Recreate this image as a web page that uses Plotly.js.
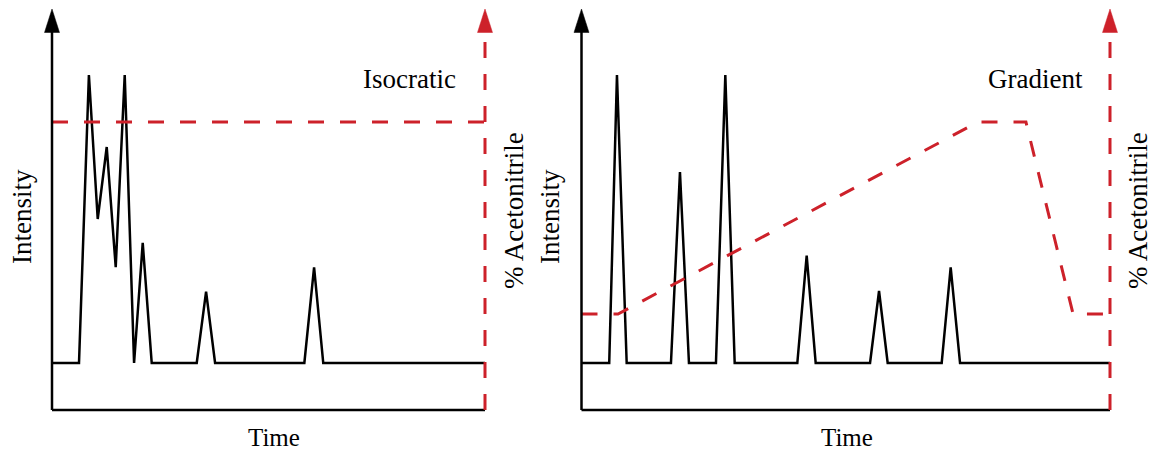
<!DOCTYPE html>
<html>
<head>
<meta charset="utf-8">
<script src="https://cdn.plot.ly/plotly-3.0.1.min.js"></script>
<style>html,body{margin:0;padding:0;background:#fff;}</style>
</head>
<body>
<div id="chart" style="width:1153px;height:452px;"></div>
<script>
// ---- data (time in min, intensity in a.u., acetonitrile in %) ----
var isoTime = [0, 1.5, 2.05, 2.54, 3.04, 3.54, 4.04, 4.56, 5.04, 5.54, 8.04, 8.56, 9.06, 14.02, 14.56, 15.07, 24.06];
var isoIntensity = [0, 0, 100, 50, 75, 33.3, 100, 0, 41.7, 0, 0, 24.8, 0, 0, 33.2, 0, 0];
var isoAcnTime = [0, 24.06];
var isoAcn = [90, 90];

var gradTime = [0, 1.54, 1.97, 2.51, 4.97, 5.47, 5.97, 7.47, 7.99, 8.51, 11.99, 12.51, 13.01, 16.03, 16.53, 17.01, 20.01, 20.51, 21.03, 29.36];
var gradIntensity = [0, 0, 100, 0, 0, 66.3, 0, 0, 100, 0, 0, 37.3, 0, 0, 25, 0, 0, 33.2, 0, 0];
var gradAcnTime = [0, 2.03, 22.03, 24.69, 27.31, 29.36];
var gradAcn = [30, 30, 90, 90, 30, 30];

var panelLabels = ["Isocratic", "Gradient"];
var xLabel = "Time";
var yLabel = "Intensity";
var y2Label = "% Acetonitrile";

// ---- layout helpers ----
var W = 1153, H = 452;
function X(px) { return px / W; }
function Y(py) { return 1 - py / H; }
var RED = "rgb(205,33,42)";
var FONT = "Liberation Serif, Times New Roman, serif";

var L = {x0: 52, x1: 485}, R = {x0: 581.5, x1: 1110};
var plotTop = 30, plotBottom = 410, baseY = 363;
var pxPerMin = 18, pxPerInt = 2.88, pxPerPct = 3.2;

function hidden(extra) {
  var a = {showgrid: false, zeroline: false, showline: false, showticklabels: false, ticks: "", fixedrange: true};
  for (var k in extra) a[k] = extra[k];
  return a;
}
var yDom = [Y(plotBottom), Y(plotTop)];
var intRange = [-(plotBottom - baseY) / pxPerInt, (baseY - plotTop) / pxPerInt];
var pctRange = [0, (plotBottom - plotTop) / pxPerPct];

var traces = [
  {x: isoTime, y: isoIntensity, xaxis: "x", yaxis: "y", mode: "lines", line: {color: "#000", width: 2.5}, hoverinfo: "skip"},
  {x: isoAcnTime, y: isoAcn, xaxis: "x", yaxis: "y2", mode: "lines", line: {color: RED, width: 3, dash: "16px,16px"}, hoverinfo: "skip"},
  {x: gradTime, y: gradIntensity, xaxis: "x2", yaxis: "y3", mode: "lines", line: {color: "#000", width: 2.5}, hoverinfo: "skip"},
  {x: gradAcnTime, y: gradAcn, xaxis: "x2", yaxis: "y4", mode: "lines", line: {color: RED, width: 3, dash: "16px,16px"}, hoverinfo: "skip"}
];

function axisShapes(P) {
  var s = [];
  s.push({type: "line", xref: "paper", yref: "paper", x0: X(P.x0), x1: X(P.x1), y0: Y(plotBottom), y1: Y(plotBottom), line: {color: "#000", width: 2.5}});
  s.push({type: "line", xref: "paper", yref: "paper", x0: X(P.x0), x1: X(P.x0), y0: Y(plotBottom), y1: Y(plotTop), line: {color: "#000", width: 2.5}});
  s.push({type: "line", xref: "paper", yref: "paper", x0: X(P.x1), x1: X(P.x1), y0: Y(plotBottom), y1: Y(plotTop), line: {color: RED, width: 3, dash: "16px,16px"}});
  function tri(x, col) {
    return {type: "path", xref: "paper", yref: "paper", fillcolor: col, line: {color: col, width: 0.5},
      path: "M" + X(x) + "," + Y(9) + " L" + X(x - 7.5) + "," + Y(32.5) + " L" + X(x + 7.5) + "," + Y(32.5) + " Z"};
  }
  s.push(tri(P.x0, "#000"));
  s.push(tri(P.x1, RED));
  return s;
}

function txt(t, x, y, anchor, angle, size) {
  return {text: t, xref: "paper", yref: "paper", x: X(x), y: Y(y), xanchor: anchor || "center", yanchor: "middle",
    showarrow: false, borderpad: 0, textangle: angle || 0, font: {family: FONT, size: size || 27, color: "#000"}};
}

var layout = {
  width: W, height: H,
  margin: {l: 0, r: 0, t: 0, b: 0, pad: 0},
  paper_bgcolor: "#fff", plot_bgcolor: "#fff",
  showlegend: false,
  xaxis: hidden({domain: [X(L.x0), X(L.x1)], range: [0, (L.x1 - L.x0) / pxPerMin], anchor: "y"}),
  yaxis: hidden({domain: yDom, range: intRange, anchor: "x"}),
  yaxis2: hidden({overlaying: "y", anchor: "x", side: "right", range: pctRange}),
  xaxis2: hidden({domain: [X(R.x0), X(R.x1)], range: [0, (R.x1 - R.x0) / pxPerMin], anchor: "y3"}),
  yaxis3: hidden({domain: yDom, range: intRange, anchor: "x2"}),
  yaxis4: hidden({overlaying: "y3", anchor: "x2", side: "right", range: pctRange}),
  shapes: axisShapes(L).concat(axisShapes(R)),
  annotations: [
    txt(panelLabels[0], 457, 79, "right"),
    txt(panelLabels[1], 1084, 79, "right"),
    txt(xLabel, 274, 437, "center", 0, 25),
    txt(xLabel, 847, 437, "center", 0, 25),
    txt(yLabel, 22, 217, "center", -90),
    txt(yLabel, 550, 217, "center", -90),
    txt(y2Label, 514, 211, "center", -90),
    txt(y2Label, 1138, 211, "center", -90)
  ]
};

Plotly.newPlot("chart", traces, layout, {staticPlot: true, displayModeBar: false});
</script>
</body>
</html>
